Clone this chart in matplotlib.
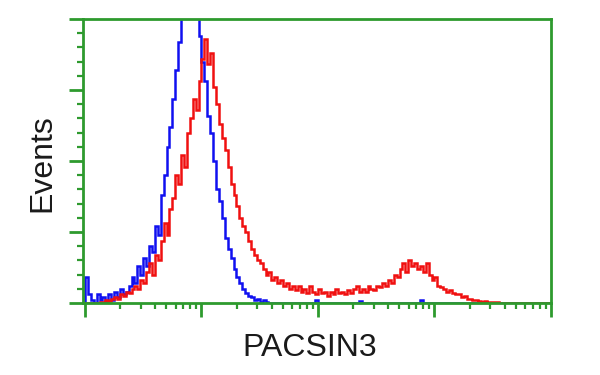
import numpy as np
import matplotlib
matplotlib.use("Agg")
import matplotlib.pyplot as plt
from matplotlib.ticker import LogLocator, MultipleLocator, NullFormatter

# histogram channels: 160 bins over 4 log decades (10^0 .. 10^4)
n_bins = 160
edges = np.logspace(0, 4, n_bins + 1)

# counts (0..100 = bottom..top of frame)
blue = [9, 3, 1, 0, 3, 1, 2, 0.5, 3, 1,
        4, 2, 5, 3, 4, 6, 9, 7, 13, 10,
        16, 13, 20, 18, 27, 24, 38, 45, 55, 62,
        72, 82, 92, 102, 108, 115, 118, 112, 104, 94,
        85, 78, 66, 60, 50, 40, 36, 30, 23, 19,
        16, 12, 9, 7, 5, 3.5, 2.5, 2, 1, 1.5,
        0.5, 1, 0.3, 0, 0, 0, 0, 0, 0, 0,
        0, 0, 0, 0, 0, 0, 0, 0, 0, 1,
        0, 0, 0, 0, 0, 0, 0, 0, 0, 0,
        0, 0, 0, 0, 0.8, 0, 0, 0, 0, 0,
        0, 0, 0, 0, 0, 0, 0, 0, 0, 0,
        0, 0, 0, 0, 0, 1, 0, 0, 0, 0,
        0, 0, 0, 0, 0, 0, 0, 0, 0, 0,
        0, 0, 0, 0, 0, 0, 0, 0, 0, 0,
        0, 0, 0, 0, 0, 0, 0, 0, 0, 0,
        0, 0, 0, 0, 0, 0, 0, 0, 0, 0]

red = [0, 0, 0, 0, 0, 0.3, 0.5, 1, 0.8, 1.5,
       2, 1.5, 3, 2.5, 4, 3.5, 5, 6, 5, 8,
       7, 11, 14, 10, 17, 15, 22, 28, 24, 33,
       37, 45, 42, 52, 48, 60, 65, 72, 68, 78,
       86, 93, 84, 88, 76, 70, 63, 58, 54, 48,
       42, 38, 34, 30, 27, 25, 22, 19, 17, 15,
       14, 12, 10, 11, 8, 9, 7, 8, 6, 7,
       5, 6, 4.5, 6, 4, 5, 3.5, 6, 4, 3,
       5, 3.5, 4, 2.5, 4, 3, 5, 3.5, 4, 3,
       4.5, 3.5, 5, 6, 4, 5, 4, 6, 5, 4.5,
       6, 5.5, 7, 6, 8, 7, 10, 9, 12, 14,
       11, 15, 13, 14, 12, 13, 11, 14, 10, 8,
       9, 6, 5.5, 5, 4, 4.5, 3.5, 3, 3, 2,
       2.5, 1.5, 1.5, 1, 1, 0.8, 0.5, 0.7, 0.3, 0.5,
       0.2, 0.3, 0, 0, 0, 0, 0, 0, 0, 0,
       0, 0, 0, 0, 0, 0, 0, 0, 0, 0]

green = '#2e9a2e'

fig = plt.figure(figsize=(6, 3.75), dpi=100)
ax = fig.add_axes([83/600, 72/375, 468/600, 284/375])

ax.stairs(blue, edges, color='#1010f0', lw=1.8)
ax.stairs(red, edges, color='#f01010', lw=1.8)

ax.set_xscale('log')
ax.set_xlim(10**-0.017, 1e4)
ax.set_ylim(0, 100)

for s in ax.spines.values():
    s.set_color(green)
    s.set_linewidth(2)

ax.xaxis.set_major_locator(LogLocator(base=10, numticks=10))
ax.xaxis.set_minor_locator(LogLocator(base=10, subs=np.arange(2, 10), numticks=10))
ax.xaxis.set_major_formatter(NullFormatter())
ax.xaxis.set_minor_formatter(NullFormatter())
ax.yaxis.set_major_locator(MultipleLocator(25))
ax.yaxis.set_minor_locator(MultipleLocator(5))
ax.yaxis.set_major_formatter(NullFormatter())

ax.tick_params(which='major', direction='out', length=10, width=2, color=green)
ax.tick_params(which='minor', direction='out', length=4.5, width=1.6, color=green)

fig.text(42/600, 1 - 163/375, 'Events', rotation=90, ha='center', va='center',
         fontsize=23, family='Liberation Sans', color='#1a1a1a')
fig.text(310/600, 1 - 348/375, 'PACSIN3', ha='center', va='center',
         fontsize=23, family='Liberation Sans', color='#1a1a1a')

fig.savefig('out.png', dpi=100)
